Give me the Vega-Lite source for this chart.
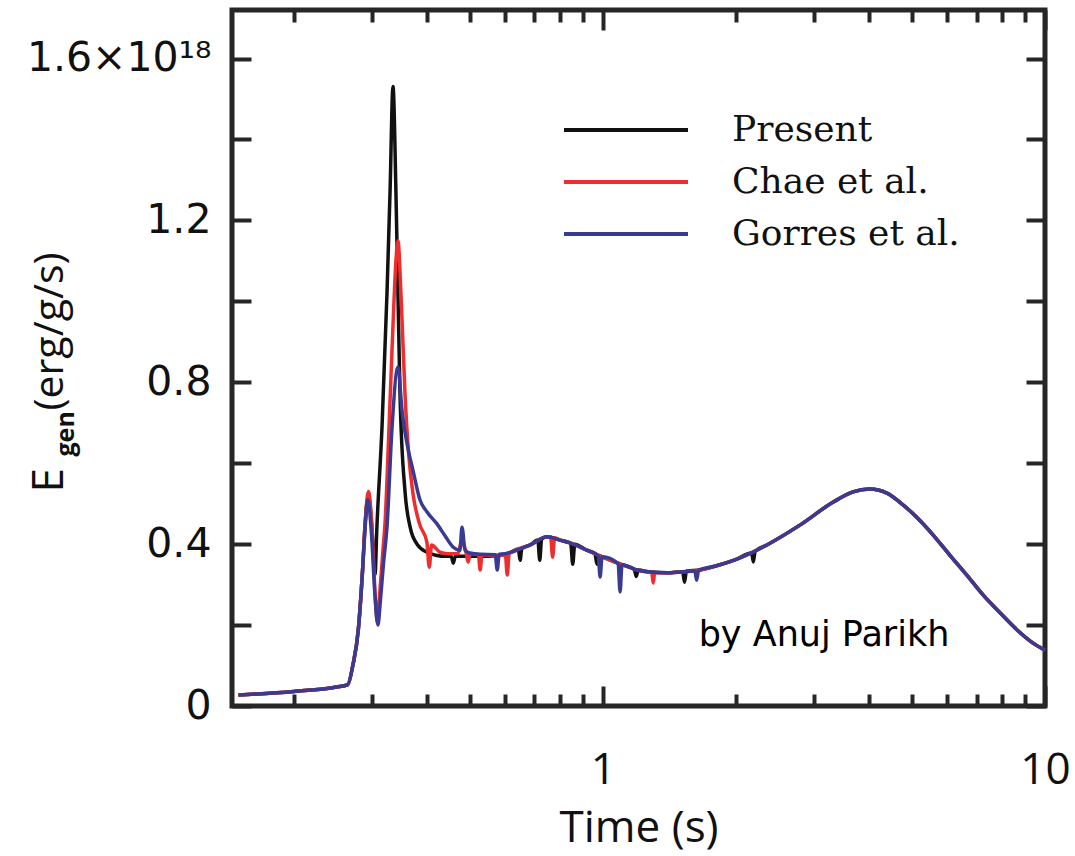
{
  "$schema": "https://vega.github.io/schema/vega-lite/v6.json",
  "width": 813,
  "height": 696,
  "autosize": "none",
  "padding": {"left": 232, "top": 10, "right": 30, "bottom": 150},
  "background": "white",
  "data": {"values": [
    {"s":"Present","t":0.15,"E":0.027},{"s":"Present","t":0.2,"E":0.036},{"s":"Present","t":0.25,"E":0.047},{"s":"Present","t":0.265,"E":0.053},{"s":"Present","t":0.272,"E":0.10},{"s":"Present","t":0.28,"E":0.19},{"s":"Present","t":0.286,"E":0.33},{"s":"Present","t":0.29,"E":0.45},{"s":"Present","t":0.295,"E":0.52},{"s":"Present","t":0.3,"E":0.45},{"s":"Present","t":0.3054,"E":0.326},{"s":"Present","t":0.3083,"E":0.44},{"s":"Present","t":0.3167,"E":0.69},{"s":"Present","t":0.325,"E":1.02},{"s":"Present","t":0.3302,"E":1.27},{"s":"Present","t":0.3353,"E":1.531},{"s":"Present","t":0.3405,"E":1.27},{"s":"Present","t":0.3441,"E":1.02},{"s":"Present","t":0.3478,"E":0.77},{"s":"Present","t":0.357,"E":0.53},{"s":"Present","t":0.367,"E":0.44},{"s":"Present","t":0.38,"E":0.40},{"s":"Present","t":0.4,"E":0.38},{"s":"Present","t":0.4217,"E":0.372},{"s":"Present","t":0.44,"E":0.37},{"s":"Present","t":0.454,"E":0.37},{"s":"Present","t":0.459,"E":0.353},{"s":"Present","t":0.464,"E":0.37},{"s":"Present","t":0.5,"E":0.37},{"s":"Present","t":0.55,"E":0.37},{"s":"Present","t":0.6,"E":0.375},{"s":"Present","t":0.62,"E":0.38},{"s":"Present","t":0.644,"E":0.388},{"s":"Present","t":0.65,"E":0.36},{"s":"Present","t":0.656,"E":0.39},{"s":"Present","t":0.685,"E":0.398},{"s":"Present","t":0.713,"E":0.41},{"s":"Present","t":0.72,"E":0.36},{"s":"Present","t":0.727,"E":0.412},{"s":"Present","t":0.748,"E":0.418},{"s":"Present","t":0.8,"E":0.41},{"s":"Present","t":0.846,"E":0.402},{"s":"Present","t":0.855,"E":0.35},{"s":"Present","t":0.864,"E":0.40},{"s":"Present","t":0.92,"E":0.385},{"s":"Present","t":0.96,"E":0.376},{"s":"Present","t":0.97,"E":0.35},{"s":"Present","t":0.98,"E":0.372},{"s":"Present","t":1.0,"E":0.368},{"s":"Present","t":1.1,"E":0.35},{"s":"Present","t":1.178,"E":0.338},{"s":"Present","t":1.19,"E":0.32},{"s":"Present","t":1.202,"E":0.336},{"s":"Present","t":1.279,"E":0.331},{"s":"Present","t":1.395,"E":0.329},{"s":"Present","t":1.515,"E":0.332},{"s":"Present","t":1.53,"E":0.306},{"s":"Present","t":1.545,"E":0.333},{"s":"Present","t":1.658,"E":0.336},{"s":"Present","t":1.8,"E":0.346},{"s":"Present","t":1.989,"E":0.361},{"s":"Present","t":2.17,"E":0.378},{"s":"Present","t":2.19,"E":0.356},{"s":"Present","t":2.21,"E":0.382},{"s":"Present","t":2.35,"E":0.398},{"s":"Present","t":2.79,"E":0.447},{"s":"Present","t":3.32,"E":0.504},{"s":"Present","t":3.68,"E":0.529},{"s":"Present","t":4.01,"E":0.536},{"s":"Present","t":4.39,"E":0.526},{"s":"Present","t":4.69,"E":0.504},{"s":"Present","t":5.12,"E":0.467},{"s":"Present","t":5.58,"E":0.423},{"s":"Present","t":6.09,"E":0.373},{"s":"Present","t":6.65,"E":0.324},{"s":"Present","t":7.25,"E":0.274},{"s":"Present","t":7.92,"E":0.230},{"s":"Present","t":8.65,"E":0.188},{"s":"Present","t":9.38,"E":0.156},{"s":"Present","t":10,"E":0.138},
    {"s":"Chae et al.","t":0.15,"E":0.027},{"s":"Chae et al.","t":0.2,"E":0.036},{"s":"Chae et al.","t":0.25,"E":0.047},{"s":"Chae et al.","t":0.265,"E":0.053},{"s":"Chae et al.","t":0.272,"E":0.10},{"s":"Chae et al.","t":0.28,"E":0.19},{"s":"Chae et al.","t":0.286,"E":0.33},{"s":"Chae et al.","t":0.29,"E":0.45},{"s":"Chae et al.","t":0.295,"E":0.53},{"s":"Chae et al.","t":0.301,"E":0.43},{"s":"Chae et al.","t":0.305,"E":0.29},{"s":"Chae et al.","t":0.309,"E":0.21},{"s":"Chae et al.","t":0.313,"E":0.28},{"s":"Chae et al.","t":0.318,"E":0.38},{"s":"Chae et al.","t":0.322,"E":0.46},{"s":"Chae et al.","t":0.3285,"E":0.69},{"s":"Chae et al.","t":0.3353,"E":0.94},{"s":"Chae et al.","t":0.3405,"E":1.10},{"s":"Chae et al.","t":0.3441,"E":1.15},{"s":"Chae et al.","t":0.3495,"E":1.02},{"s":"Chae et al.","t":0.357,"E":0.77},{"s":"Chae et al.","t":0.364,"E":0.62},{"s":"Chae et al.","t":0.372,"E":0.526},{"s":"Chae et al.","t":0.385,"E":0.45},{"s":"Chae et al.","t":0.4,"E":0.405},{"s":"Chae et al.","t":0.405,"E":0.343},{"s":"Chae et al.","t":0.41,"E":0.398},{"s":"Chae et al.","t":0.4284,"E":0.38},{"s":"Chae et al.","t":0.45,"E":0.376},{"s":"Chae et al.","t":0.47,"E":0.376},{"s":"Chae et al.","t":0.48,"E":0.41},{"s":"Chae et al.","t":0.491,"E":0.377},{"s":"Chae et al.","t":0.496,"E":0.356},{"s":"Chae et al.","t":0.501,"E":0.376},{"s":"Chae et al.","t":0.523,"E":0.374},{"s":"Chae et al.","t":0.528,"E":0.336},{"s":"Chae et al.","t":0.533,"E":0.374},{"s":"Chae et al.","t":0.56,"E":0.372},{"s":"Chae et al.","t":0.602,"E":0.374},{"s":"Chae et al.","t":0.608,"E":0.324},{"s":"Chae et al.","t":0.614,"E":0.377},{"s":"Chae et al.","t":0.62,"E":0.38},{"s":"Chae et al.","t":0.685,"E":0.398},{"s":"Chae et al.","t":0.748,"E":0.418},{"s":"Chae et al.","t":0.762,"E":0.417},{"s":"Chae et al.","t":0.77,"E":0.368},{"s":"Chae et al.","t":0.778,"E":0.416},{"s":"Chae et al.","t":0.8,"E":0.41},{"s":"Chae et al.","t":0.843,"E":0.403},{"s":"Chae et al.","t":0.92,"E":0.385},{"s":"Chae et al.","t":1.0,"E":0.368},{"s":"Chae et al.","t":1.1,"E":0.35},{"s":"Chae et al.","t":1.195,"E":0.336},{"s":"Chae et al.","t":1.279,"E":0.331},{"s":"Chae et al.","t":1.29,"E":0.331},{"s":"Chae et al.","t":1.3,"E":0.304},{"s":"Chae et al.","t":1.31,"E":0.33},{"s":"Chae et al.","t":1.395,"E":0.329},{"s":"Chae et al.","t":1.5,"E":0.331},{"s":"Chae et al.","t":1.658,"E":0.336},{"s":"Chae et al.","t":1.8,"E":0.346},{"s":"Chae et al.","t":1.989,"E":0.361},{"s":"Chae et al.","t":2.35,"E":0.398},{"s":"Chae et al.","t":2.79,"E":0.447},{"s":"Chae et al.","t":3.32,"E":0.504},{"s":"Chae et al.","t":3.68,"E":0.529},{"s":"Chae et al.","t":4.01,"E":0.536},{"s":"Chae et al.","t":4.39,"E":0.526},{"s":"Chae et al.","t":4.69,"E":0.504},{"s":"Chae et al.","t":5.12,"E":0.467},{"s":"Chae et al.","t":5.58,"E":0.423},{"s":"Chae et al.","t":6.09,"E":0.373},{"s":"Chae et al.","t":6.65,"E":0.324},{"s":"Chae et al.","t":7.25,"E":0.274},{"s":"Chae et al.","t":7.92,"E":0.230},{"s":"Chae et al.","t":8.65,"E":0.188},{"s":"Chae et al.","t":9.38,"E":0.156},{"s":"Chae et al.","t":10,"E":0.138},
    {"s":"Gorres et al.","t":0.15,"E":0.027},{"s":"Gorres et al.","t":0.2,"E":0.036},{"s":"Gorres et al.","t":0.25,"E":0.047},{"s":"Gorres et al.","t":0.265,"E":0.053},{"s":"Gorres et al.","t":0.272,"E":0.10},{"s":"Gorres et al.","t":0.28,"E":0.19},{"s":"Gorres et al.","t":0.286,"E":0.33},{"s":"Gorres et al.","t":0.29,"E":0.44},{"s":"Gorres et al.","t":0.294,"E":0.51},{"s":"Gorres et al.","t":0.3,"E":0.42},{"s":"Gorres et al.","t":0.305,"E":0.28},{"s":"Gorres et al.","t":0.31,"E":0.20},{"s":"Gorres et al.","t":0.314,"E":0.26},{"s":"Gorres et al.","t":0.319,"E":0.35},{"s":"Gorres et al.","t":0.325,"E":0.442},{"s":"Gorres et al.","t":0.3337,"E":0.69},{"s":"Gorres et al.","t":0.3441,"E":0.838},{"s":"Gorres et al.","t":0.3514,"E":0.731},{"s":"Gorres et al.","t":0.362,"E":0.64},{"s":"Gorres et al.","t":0.372,"E":0.583},{"s":"Gorres et al.","t":0.386,"E":0.509},{"s":"Gorres et al.","t":0.4,"E":0.48},{"s":"Gorres et al.","t":0.4217,"E":0.45},{"s":"Gorres et al.","t":0.44,"E":0.42},{"s":"Gorres et al.","t":0.4583,"E":0.393},{"s":"Gorres et al.","t":0.4753,"E":0.385},{"s":"Gorres et al.","t":0.4803,"E":0.442},{"s":"Gorres et al.","t":0.488,"E":0.385},{"s":"Gorres et al.","t":0.5,"E":0.378},{"s":"Gorres et al.","t":0.53,"E":0.375},{"s":"Gorres et al.","t":0.571,"E":0.374},{"s":"Gorres et al.","t":0.577,"E":0.336},{"s":"Gorres et al.","t":0.583,"E":0.375},{"s":"Gorres et al.","t":0.6,"E":0.376},{"s":"Gorres et al.","t":0.62,"E":0.38},{"s":"Gorres et al.","t":0.685,"E":0.398},{"s":"Gorres et al.","t":0.748,"E":0.418},{"s":"Gorres et al.","t":0.8,"E":0.41},{"s":"Gorres et al.","t":0.843,"E":0.403},{"s":"Gorres et al.","t":0.92,"E":0.385},{"s":"Gorres et al.","t":0.976,"E":0.372},{"s":"Gorres et al.","t":0.986,"E":0.319},{"s":"Gorres et al.","t":0.996,"E":0.369},{"s":"Gorres et al.","t":1.083,"E":0.352},{"s":"Gorres et al.","t":1.094,"E":0.282},{"s":"Gorres et al.","t":1.105,"E":0.349},{"s":"Gorres et al.","t":1.195,"E":0.336},{"s":"Gorres et al.","t":1.279,"E":0.331},{"s":"Gorres et al.","t":1.395,"E":0.329},{"s":"Gorres et al.","t":1.5,"E":0.331},{"s":"Gorres et al.","t":1.614,"E":0.334},{"s":"Gorres et al.","t":1.63,"E":0.311},{"s":"Gorres et al.","t":1.646,"E":0.335},{"s":"Gorres et al.","t":1.8,"E":0.346},{"s":"Gorres et al.","t":1.989,"E":0.361},{"s":"Gorres et al.","t":2.35,"E":0.398},{"s":"Gorres et al.","t":2.79,"E":0.447},{"s":"Gorres et al.","t":3.32,"E":0.504},{"s":"Gorres et al.","t":3.68,"E":0.529},{"s":"Gorres et al.","t":4.01,"E":0.536},{"s":"Gorres et al.","t":4.39,"E":0.526},{"s":"Gorres et al.","t":4.69,"E":0.504},{"s":"Gorres et al.","t":5.12,"E":0.467},{"s":"Gorres et al.","t":5.58,"E":0.423},{"s":"Gorres et al.","t":6.09,"E":0.373},{"s":"Gorres et al.","t":6.65,"E":0.324},{"s":"Gorres et al.","t":7.25,"E":0.274},{"s":"Gorres et al.","t":7.92,"E":0.230},{"s":"Gorres et al.","t":8.65,"E":0.188},{"s":"Gorres et al.","t":9.38,"E":0.156},{"s":"Gorres et al.","t":10,"E":0.138}
  ]},
  "layer": [
    {
      "mark": {"type": "line", "strokeWidth": 3.5, "interpolate": "monotone"},
      "encoding": {
        "x": {"field": "t", "type": "quantitative",
          "scale": {"type": "log", "domain": [0.145, 10], "nice": false},
          "axis": {"orient": "bottom", "values": [1, 10], "tickSize": -20, "format": "d",
            "labelFont": "Open Sans", "labelFontSize": 44, "labelColor": "#111111", "labelPadding": 97,
            "labelBaseline": "alphabetic", "labelFlush": false, "labelLimit": 0,
            "title": "Time (s)", "titleFont": "Open Sans", "titleFontSize": 44, "titleFontWeight": "normal",
            "titleColor": "#111111", "titleY": 135, "titleBaseline": "alphabetic"}},
        "y": {"field": "E", "type": "quantitative",
          "scale": {"domain": [0, 1.72], "nice": false, "zero": false},
          "axis": {"orient": "left", "values": [0, 0.2, 0.4, 0.6, 0.8, 1, 1.2, 1.4, 1.6], "tickSize": -19,
            "labelExpr": "datum.value == 0 ? '0' : (datum.value == 0.4 || datum.value == 0.8 || datum.value == 1.2) ? format(datum.value, '.1f') : datum.value == 1.6 ? '1.6×10¹⁸' : ''",
            "labelFont": "DejaVu Sans", "labelFontSize": 41, "labelColor": "#111111", "labelPadding": 40, "labelLimit": 0,
            "title": "(erg/g/s)", "titleFont": "Open Sans", "titleFontSize": 41, "titleFontWeight": "normal",
            "titleColor": "#111111", "titleAngle": 270, "titleAlign": "left", "titleBaseline": "alphabetic",
            "titleX": -170, "titleY": 400}},
        "color": {"field": "s", "type": "nominal",
          "scale": {"domain": ["Present", "Chae et al.", "Gorres et al."], "range": ["#111111", "#ee2e2e", "#3a3a92"]},
          "legend": {"orient": "none", "legendX": 371, "legendY": 97, "title": null, "padding": 0,
            "symbolType": "M-3,0H3", "symbolSize": 1708, "symbolStrokeWidth": 4,
            "labelFont": "DejaVu Serif", "labelFontSize": 36, "labelOffset": 83, "labelColor": "#111111",
            "labelLimit": 0, "rowPadding": 11}}
      }
    },
    {
      "mark": {"type": "line", "strokeOpacity": 0},
      "encoding": {
        "x": {"field": "t", "type": "quantitative",
          "scale": {"type": "log", "domain": [0.145, 10], "nice": false},
          "axis": {"orient": "bottom", "values": [0.2, 0.3, 0.4, 0.5, 0.6, 0.7, 0.8, 0.9, 2, 3, 4, 5, 6, 7, 8, 9],
            "tickSize": -12, "labels": false, "title": null}},
        "y": {"field": "E", "type": "quantitative",
          "scale": {"domain": [0, 1.72], "nice": false, "zero": false},
          "axis": {"orient": "right", "values": [0, 0.2, 0.4, 0.6, 0.8, 1, 1.2, 1.4, 1.6], "tickSize": -19,
            "labels": false, "title": "E", "titleFont": "Open Sans", "titleFontSize": 44, "titleFontWeight": "normal",
            "titleColor": "#111111", "titleAngle": 270, "titleAlign": "left", "titleBaseline": "alphabetic",
            "titleX": -983, "titleY": 482}}
      }
    },
    {
      "mark": {"type": "line", "strokeOpacity": 0},
      "encoding": {
        "x": {"field": "t", "type": "quantitative",
          "scale": {"type": "log", "domain": [0.145, 10], "nice": false},
          "axis": {"orient": "top", "values": [1, 10], "tickSize": -20, "labels": false,
            "title": "gen", "titleFont": "Open Sans", "titleFontSize": 25, "titleFontWeight": "bold",
            "titleColor": "#111111", "titleAngle": 270, "titleAlign": "left", "titleBaseline": "alphabetic",
            "titleX": -159, "titleY": 446}},
        "y": {"field": "E", "type": "quantitative",
          "scale": {"domain": [0, 1.72], "nice": false, "zero": false}, "axis": null}
      }
    },
    {
      "mark": {"type": "line", "strokeOpacity": 0},
      "encoding": {
        "x": {"field": "t", "type": "quantitative",
          "scale": {"type": "log", "domain": [0.145, 10], "nice": false},
          "axis": {"orient": "top", "values": [0.2, 0.3, 0.4, 0.5, 0.6, 0.7, 0.8, 0.9, 2, 3, 4, 5, 6, 7, 8, 9],
            "tickSize": -12, "labels": false, "title": null}},
        "y": {"field": "E", "type": "quantitative",
          "scale": {"domain": [0, 1.72], "nice": false, "zero": false}, "axis": null}
      }
    },
    {
      "data": {"values": [{}]},
      "mark": {"type": "text", "font": "DejaVu Sans", "fontSize": 35, "align": "left", "baseline": "alphabetic", "color": "#000000"},
      "encoding": {
        "x": {"datum": 1.647, "type": "quantitative",
          "scale": {"type": "log", "domain": [0.145, 10], "nice": false}, "axis": null},
        "y": {"datum": 0.148, "type": "quantitative",
          "scale": {"domain": [0, 1.72], "nice": false, "zero": false}, "axis": null},
        "text": {"value": "by Anuj Parikh"}
      }
    }
  ],
  "resolve": {"axis": {"x": "independent", "y": "independent"}},
  "config": {
    "view": {"stroke": "#262626", "strokeWidth": 5},
    "axis": {"domain": false, "grid": false, "ticks": true, "tickColor": "#262626", "tickWidth": 4}
  }
}
